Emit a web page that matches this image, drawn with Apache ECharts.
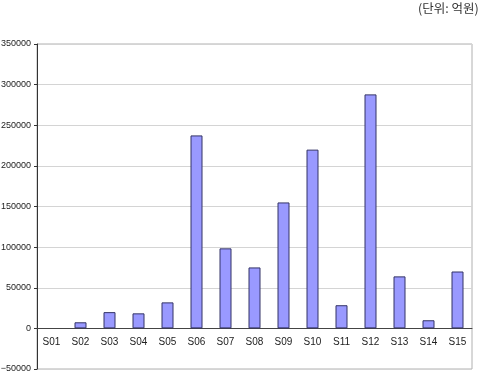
<!DOCTYPE html>
<html>
<head>
<meta charset="utf-8">
<script src="https://cdn.jsdelivr.net/npm/echarts@6/dist/echarts.min.js"></script>
<style>
  html, body { margin: 0; padding: 0; background: #fff; }
  #chart { width: 478px; height: 376px; }
</style>
</head>
<body>
<div id="chart"></div>
<script>
// categories and values (억원); S01 has no bar
const categories = ['S01', 'S02', 'S03', 'S04', 'S05', 'S06', 'S07', 'S08', 'S09', 'S10', 'S11', 'S12', 'S13', 'S14', 'S15'];
const values = [null, 7500, 20000, 18500, 32000, 237500, 98500, 75000, 155000, 220000, 28500, 288000, 64000, 10000, 70000];
const unitLabel = '(단위: 억원)';

const yMin = -50000, yMax = 350000;
const gridTop = 44, gridBottom = 7, chartH = 376;
// distance from grid bottom up to the zero line, so the category axis sits on 0
const plotH = chartH - gridTop - gridBottom;
const zeroOffset = plotH * (0 - yMin) / (yMax - yMin);

const chart = echarts.init(document.getElementById('chart'));

chart.setOption({
  animation: false,
  graphic: [{
    type: 'text',
    left: 418,
    top: 2,
    style: {
      text: unitLabel,
      fontSize: 12.5,
      fill: '#333',
      fontFamily: 'Noto Sans CJK KR'
    }
  }],
  grid: {
    left: 37,
    right: 6,
    top: gridTop,
    bottom: gridBottom,
    containLabel: false,
    outerBoundsMode: 'none',
    show: true,
    borderColor: '#b0b0b0',
    borderWidth: 1
  },
  xAxis: {
    type: 'category',
    data: categories,
    position: 'bottom',
    offset: -zeroOffset,
    axisLine: { onZero: false, lineStyle: { color: '#444', width: 1 } },
    axisTick: { inside: true, length: 3, lineStyle: { color: '#444' } },
    axisLabel: {
      margin: 9,
      fontSize: 10,
      color: '#222',
      fontFamily: 'Liberation Sans Narrow, Liberation Sans, sans-serif'
    }
  },
  yAxis: {
    type: 'value',
    min: yMin,
    max: yMax,
    interval: 50000,
    axisLine: { show: true, lineStyle: { color: '#333' } },
    axisTick: { show: true, length: 3, lineStyle: { color: '#333' } },
    axisLabel: {
      margin: 6,
      fontSize: 9,
      color: '#222',
      fontFamily: 'Liberation Sans Narrow, Liberation Sans, sans-serif',
      formatter: v => (v < 0 ? '\u2212' + Math.abs(v) : String(v))
    },
    splitLine: { lineStyle: { color: '#d4d4d4' } }
  },
  series: [{
    type: 'bar',
    data: values,
    barWidth: 12,
    itemStyle: {
      color: '#9999ff',
      borderColor: '#333366',
      borderWidth: 1
    }
  }]
});
</script>
</body>
</html>
